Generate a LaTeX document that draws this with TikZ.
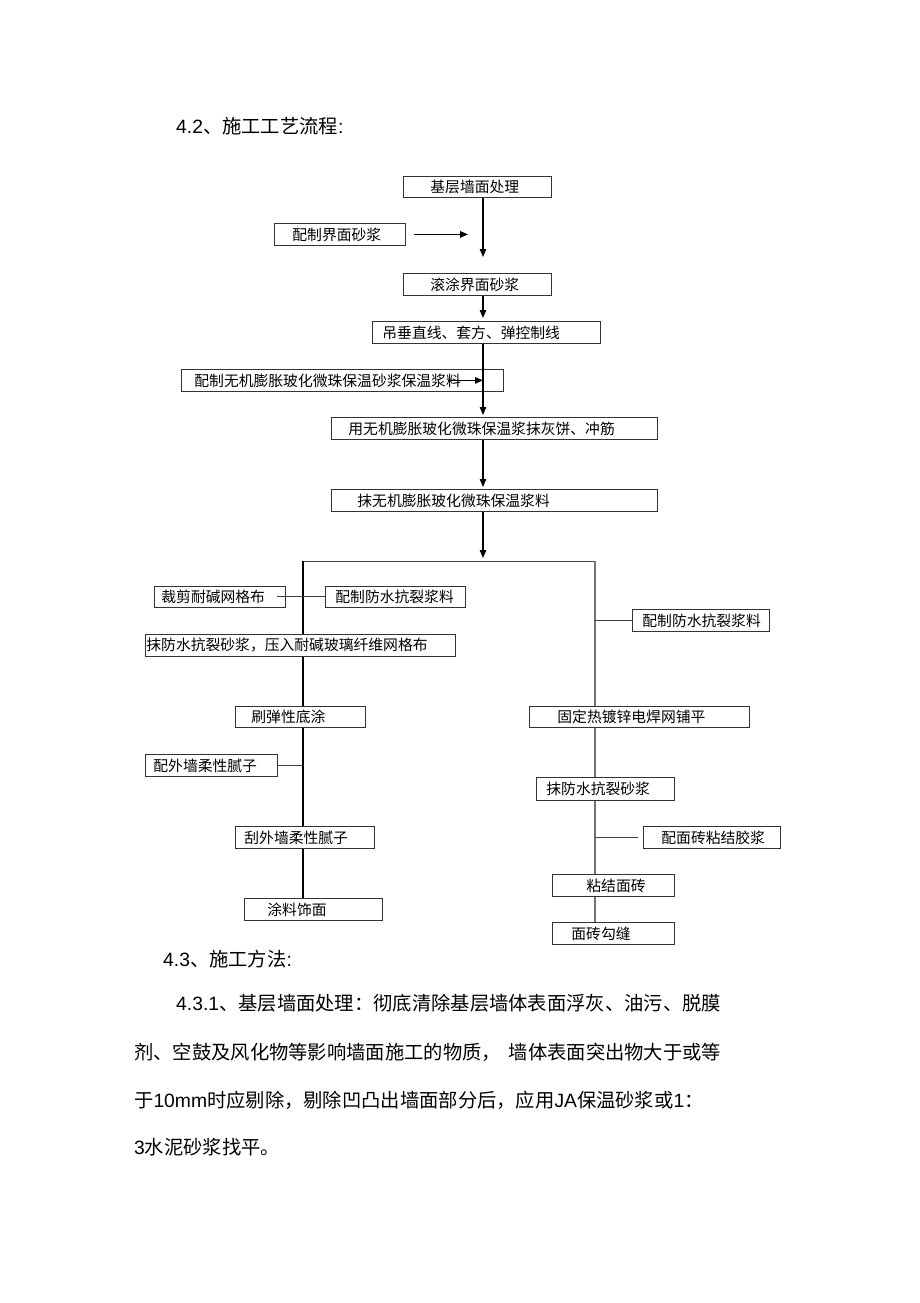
\documentclass[tikz,border=0pt]{standalone}
\usepackage{fontspec}
\setmainfont{Noto Sans CJK SC}
\newfontfamily\latf{Liberation Sans}
\newcommand{\lat}[1]{{\latf #1}}
\usetikzlibrary{arrows.meta,calc}
\begin{document}
\begin{tikzpicture}[x=1pt,y=-1pt,>={Triangle[length=8pt,width=6.5pt]},
	stepbox/.style 2 args={draw=black!80,line width=0.8pt,fill=white,anchor=north west,minimum height=22pt,inner xsep=0pt,inner ysep=0pt,align=left,text width=#1pt,font=\fontsize{14.8}{16}\selectfont,execute at begin node={\noindent\hspace*{#2pt}}},
	main line/.style={black,line width=1.2pt},
	right line/.style={black!55,line width=1.1pt},
	side line/.style={black!75,line width=0.9pt},
	para/.style={anchor=west,inner sep=0pt,font=\fontsize{19.3}{22}\selectfont}]
	
	\fill[white] (0,0) rectangle (920,1303);
	\useasboundingbox (0,0) rectangle (920,1303);
	
	% headings and text
	\node[para] (t42) at (176,126) {\lat{4.2}、施工工艺流程\lat{:}};
	\node[para] (t43) at (163,959) {\lat{4.3}、施工方法\lat{:}};
	\node[para] (p1) at (176,1003) {\lat{4.3.1}、基层墙面处理：彻底清除基层墙体表面浮灰、油污、脱膜};
	\node[para] (p2) at (134,1052) {剂、空鼓及风化物等影响墙面施工的物质，\hspace{8pt}墙体表面突出物大于或等};
	\node[para] (p3) at (134,1100) {于\lat{10mm}时应剔除，剔除凹凸出墙面部分后，应用\lat{JA}保温砂浆或\lat{1}：};
	\node[para] (p4) at (134,1147) {\lat{3}水泥砂浆找平。};
	
	% main column
	\node[stepbox={148}{27},minimum height=21pt] (jc) at (403,176) {基层墙面处理};
	\node[stepbox={131}{18}] (pz) at (274,223) {配制界面砂浆};
	\node[stepbox={148}{27}] (gt) at (403,273) {滚涂界面砂浆};
	\node[stepbox={228}{10}] (dc) at (372,321) {吊垂直线、套方、弹控制线};
	\node[stepbox={322}{13},fill=none] (pw) at (181,369) {配制无机膨胀玻化微珠保温砂浆保温浆料};
	\node[stepbox={326}{17}] (yw) at (331,417) {用无机膨胀玻化微珠保温浆抹灰饼、冲筋};
	\node[stepbox={326}{26}] (mw) at (331,489) {抹无机膨胀玻化微珠保温浆料};
	
	% left branch
	\node[stepbox={131}{7},minimum height=21pt] (cj) at (154,586) {裁剪耐碱网格布};
	\node[stepbox={140}{10},minimum height=21pt] (pf1) at (325,586) {配制防水抗裂浆料};
	\node[stepbox={310}{1}] (my) at (145,634) {抹防水抗裂砂浆，压入耐碱玻璃纤维网格布};
	\node[stepbox={130}{16},minimum height=21pt] (sd) at (235,706) {刷弹性底涂};
	\node[stepbox={132}{8}] (pn) at (145,754) {配外墙柔性腻子};
	\node[stepbox={139}{9}] (gn) at (235,826) {刮外墙柔性腻子};
	\node[stepbox={138}{23}] (tl) at (244,898) {涂料饰面};
	
	% right branch
	\node[stepbox={137}{10}] (pf2) at (632,609) {配制防水抗裂浆料};
	\node[stepbox={220}{28},minimum height=21pt] (gd) at (529,706) {固定热镀锌电焊网铺平};
	\node[stepbox={138}{10},minimum height=23pt] (mk) at (536,777) {抹防水抗裂砂浆};
	\node[stepbox={137}{18}] (pm) at (643,826) {配面砖粘结胶浆};
	\node[stepbox={122}{34}] (nj) at (552,874) {粘结面砖};
	\node[stepbox={122}{19}] (fj) at (552,922) {面砖勾缝};
	
	\coordinate (sp) at (483,0);
	\coordinate (fork) at (483,561);
	\coordinate (lb) at (303,561);
	\coordinate (rb) at (595,561);
	
	\draw[main line,->,shorten >=16pt] (jc.south -| sp) -- (gt.north -| sp);
	\draw[main line,->] ($(pz.east)+(8,0)$) -- ($(pz.east -| sp)+(-15,0)$);
	\draw[main line,->,shorten >=3pt] (gt.south -| sp) -- (dc.north -| sp);
	\draw[main line,->,shorten >=2pt] (dc.south -| sp) -- (yw.north -| sp);
	\draw[main line,->] ($(pw.east)+(-56,0)$) -- (pw.east -| sp);
	\draw[main line,->,shorten >=2pt] (yw.south -| sp) -- (mw.north -| sp);
	\draw[main line,->,shorten >=3pt] (mw.south -| sp) -- (fork);
	
	\draw[side line] (lb) -- (rb);
	\draw[main line] (lb) -- (my.north -| lb);
	\draw[main line] (my.south -| lb) -- (sd.north -| lb);
	\draw[main line] (sd.south -| lb) -- (gn.north -| lb);
	\draw[main line] (gn.south -| lb) -- (tl.north -| lb);
	\draw[right line] (rb) -- (gd.north -| rb);
	\draw[right line] (gd.south -| rb) -- (mk.north -| rb);
	\draw[right line] (mk.south -| rb) -- (nj.north -| rb);
	\draw[right line] (nj.south -| rb) -- (fj.north -| rb);
	
	\draw[side line] ($(cj.east)+(-9,0)$) -- (pf1.west);
	\draw[side line] (pf2.west -| rb) -- (pf2.west);
	\draw[side line] (pn.east) -- (pn.east -| lb);
	\draw[side line] (pm.west -| rb) -- ($(pm.west)+(-5,0)$);
	
\end{tikzpicture}
\end{document}
